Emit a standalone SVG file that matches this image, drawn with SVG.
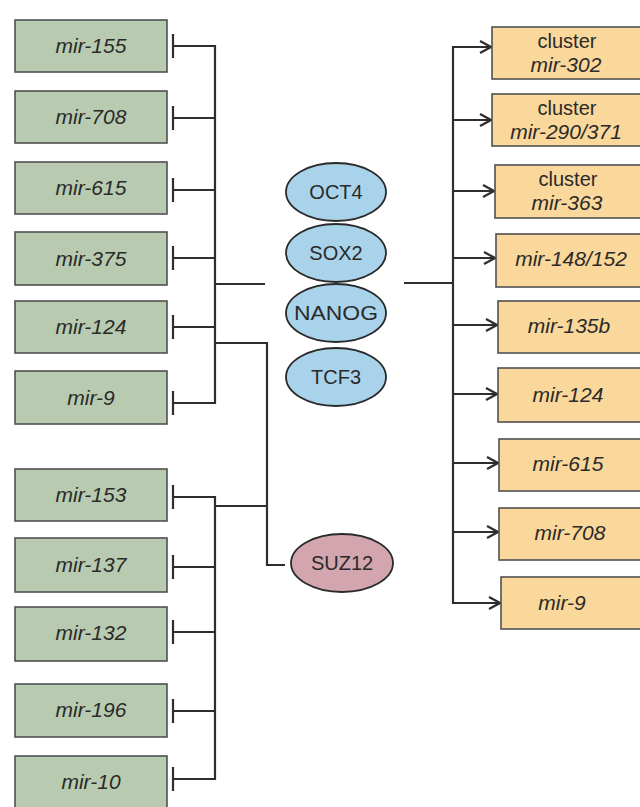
<svg xmlns="http://www.w3.org/2000/svg" width="640" height="807" viewBox="0 0 640 807">
<defs>
<style>
.g{fill:#b8cbb0;stroke:#505050;stroke-width:1.6}
.o{fill:#fad79a;stroke:#505050;stroke-width:1.6}
.b{fill:#a9d3ea;stroke:#2a2a2a;stroke-width:1.8}
.p{fill:#d3a5ae;stroke:#2a2a2a;stroke-width:1.8}
.t{font-family:"Liberation Sans",Arial,sans-serif;font-size:20px;fill:#2a2a2a;text-anchor:middle}
.i{font-style:italic;font-size:21px}
.c line,.c path{stroke:#2e2e2e;stroke-width:2.2;fill:none}
</style>
<marker id="ar" markerWidth="14" markerHeight="16" refX="12" refY="8" orient="auto" markerUnits="userSpaceOnUse">
<path d="M1,2 L12,8 L1,14" fill="none" stroke="#2e2e2e" stroke-width="2.2"/>
</marker>
</defs>
<rect width="640" height="807" fill="#ffffff"/>
<g class="c" id="connectors">
<path d="M173,34V58M173,46H215"/>
<path d="M173,106V130M173,118H215"/>
<path d="M173,178V202M173,190H215"/>
<path d="M173,246V270M173,258H215"/>
<path d="M173,315V339M173,327H215"/>
<path d="M173,391V415M173,403H215"/>
<line x1="215" y1="45" x2="215" y2="404"/>
<line x1="215" y1="284" x2="265" y2="284"/>
<path d="M215,343H267V565H285"/>
<path d="M173,485V509M173,497H215"/>
<path d="M173,555V579M173,567H215"/>
<path d="M173,620V644M173,632H215"/>
<path d="M173,699V723M173,711H215"/>
<path d="M173,767V791M173,779H215"/>
<line x1="215" y1="496" x2="215" y2="780"/>
<line x1="215" y1="506" x2="267" y2="506"/>
<line x1="404" y1="283" x2="453" y2="283"/>
<line x1="453" y1="46" x2="453" y2="604"/>
<line x1="453" y1="47" x2="491" y2="47" marker-end="url(#ar)"/>
<line x1="453" y1="120" x2="491" y2="120" marker-end="url(#ar)"/>
<line x1="453" y1="191" x2="494" y2="191" marker-end="url(#ar)"/>
<line x1="453" y1="258" x2="495" y2="258" marker-end="url(#ar)"/>
<line x1="453" y1="325" x2="497" y2="325" marker-end="url(#ar)"/>
<line x1="453" y1="394" x2="497" y2="394" marker-end="url(#ar)"/>
<line x1="453" y1="463" x2="498" y2="463" marker-end="url(#ar)"/>
<line x1="453" y1="532" x2="498" y2="532" marker-end="url(#ar)"/>
<line x1="453" y1="603" x2="500" y2="603" marker-end="url(#ar)"/>
</g>
<g id="l-mir-155"><rect class="g" x="15" y="20" width="152" height="52"/><text class="t i" x="91" y="53">mir-155</text></g>
<g id="l-mir-708"><rect class="g" x="15" y="91" width="152" height="52"/><text class="t i" x="91" y="124">mir-708</text></g>
<g id="l-mir-615"><rect class="g" x="15" y="162" width="152" height="52"/><text class="t i" x="91" y="195">mir-615</text></g>
<g id="l-mir-375"><rect class="g" x="15" y="232" width="152" height="53"/><text class="t i" x="91" y="266">mir-375</text></g>
<g id="l-mir-124"><rect class="g" x="15" y="301" width="152" height="52"/><text class="t i" x="91" y="334">mir-124</text></g>
<g id="l-mir-9"><rect class="g" x="15" y="371" width="152" height="53"/><text class="t i" x="91" y="405">mir-9</text></g>
<g id="l-mir-153"><rect class="g" x="15" y="469" width="152" height="52"/><text class="t i" x="91" y="502">mir-153</text></g>
<g id="l-mir-137"><rect class="g" x="15" y="538" width="152" height="54"/><text class="t i" x="91" y="572">mir-137</text></g>
<g id="l-mir-132"><rect class="g" x="15" y="607" width="152" height="54"/><text class="t i" x="91" y="640">mir-132</text></g>
<g id="l-mir-196"><rect class="g" x="15" y="684" width="152" height="53"/><text class="t i" x="91" y="717">mir-196</text></g>
<g id="l-mir-10"><rect class="g" x="15" y="756" width="152" height="54"/><text class="t i" x="91" y="789">mir-10</text></g>
<g id="OCT4"><ellipse class="b" cx="336" cy="192" rx="50" ry="29"/><text class="t" x="336" y="199">OCT4</text></g>
<g id="SOX2"><ellipse class="b" cx="336" cy="253" rx="50" ry="29"/><text class="t" x="336" y="260">SOX2</text></g>
<g id="NANOG"><ellipse class="b" cx="336" cy="313" rx="50" ry="29"/><text class="t" x="336" y="320" textLength="84" lengthAdjust="spacingAndGlyphs">NANOG</text></g>
<g id="TCF3"><ellipse class="b" cx="336" cy="377" rx="50" ry="29"/><text class="t" x="336" y="384">TCF3</text></g>
<g id="SUZ12"><ellipse class="p" cx="342" cy="563" rx="51" ry="29"/><text class="t" x="342" y="570">SUZ12</text></g>
<g id="r-mir-302"><rect class="o" x="492" y="27" width="150" height="52"/><text class="t" x="567" y="48">cluster</text><text class="t i" x="566" y="72">mir-302</text></g>
<g id="r-mir-290"><rect class="o" x="492" y="94" width="150" height="52"/><text class="t" x="567" y="115">cluster</text><text class="t i" x="566" y="139">mir-290/371</text></g>
<g id="r-mir-363"><rect class="o" x="495" y="165" width="147" height="53"/><text class="t" x="568" y="186">cluster</text><text class="t i" x="567" y="210">mir-363</text></g>
<g id="r-mir-148"><rect class="o" x="496" y="234" width="146" height="53"/><text class="t i" x="571" y="266">mir-148/152</text></g>
<g id="r-mir-135b"><rect class="o" x="498" y="301" width="144" height="52"/><text class="t i" x="569" y="333">mir-135b</text></g>
<g id="r-mir-124"><rect class="o" x="498" y="368" width="144" height="54"/><text class="t i" x="568" y="402">mir-124</text></g>
<g id="r-mir-615"><rect class="o" x="499" y="439" width="143" height="52"/><text class="t i" x="568" y="471">mir-615</text></g>
<g id="r-mir-708"><rect class="o" x="499" y="508" width="143" height="52"/><text class="t i" x="570" y="540">mir-708</text></g>
<g id="r-mir-9"><rect class="o" x="501" y="577" width="141" height="52"/><text class="t i" x="562" y="610">mir-9</text></g>
</svg>
